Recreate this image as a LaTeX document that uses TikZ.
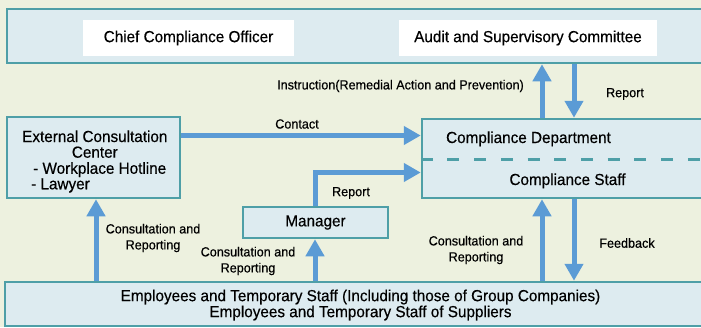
\documentclass[tikz,border=0pt]{standalone}
\usepackage{fontspec}
\setmainfont{Liberation Sans}[FakeStretch=0.955,FakeBold=0.4]
\usetikzlibrary{arrows.meta}
\definecolor{bgc}{HTML}{EDF1DF}
\definecolor{boxfill}{HTML}{DDEBF0}
\definecolor{boxline}{HTML}{4E9FA7}
\definecolor{arrowc}{HTML}{5B9BD5}
\begin{document}
\begin{tikzpicture}[x=1pt,y=-1pt,
  box/.style={draw=boxline,fill=boxfill,line width=2.5pt,inner sep=0pt},
  whitebox/.style={fill=white,inner sep=0pt,font=\fontsize{16}{16}\selectfont},
  bigtext/.style={font=\fontsize{16}{16}\selectfont,inner sep=0pt},
  lbl/.style={font=\fontsize{13.2}{16}\selectfont,align=center,inner sep=0pt},
  arr/.style={draw=arrowc,line width=5pt,line join=miter,-{Triangle[width=18pt,length=17pt]}}]
\useasboundingbox (0,0) rectangle (701,327);
\fill[bgc] (0,0) rectangle (701,327);
\begin{scope}
\clip (0,0) rectangle (701,327);
% boxes
\node[box,minimum width=706pt,minimum height=54pt] (top) at (360,36) {};
\node[whitebox,minimum width=211pt,minimum height=36pt] (cco) at (188.5,38) {Chief Compliance Officer};
\node[whitebox,minimum width=258pt,minimum height=36pt] (asc) at (528,38) {Audit and Supervisory Committee};
\node[box,minimum width=173pt,minimum height=81pt] (ext) at (93.5,157.5) {};
\node[box,minimum width=291pt,minimum height=79pt] (comp) at (567.5,158.5) {};
\node[box,minimum width=145pt,minimum height=31pt,font=\fontsize{16}{16}\selectfont] (mgr) at (315.5,222.5) {Manager};
\node[box,minimum width=708pt,minimum height=44pt] (emp) at (359,304) {};
% texts inside boxes
\node[bigtext,anchor=base west,font=\fontsize{16}{15}\selectfont] (exttext) at (22,142) {\begin{tabular}[t]{@{}l@{}}External Consultation\\ \multicolumn{1}{c}{Center}\\ \hspace{11pt}- Workplace Hotline\\ \hspace{9pt}- Lawyer\end{tabular}};
\node[bigtext,anchor=base] (cdept) at (528.5,143) {Compliance Department};
\node[bigtext,anchor=base] (cstaff) at (567.5,185) {Compliance Staff};
\node[bigtext,align=center,font=\fontsize{16}{16}\selectfont] (emptext) at (360.5,305) {Employees and Temporary Staff (Including those of Group Companies)\\Employees and Temporary Staff of Suppliers};
% dashed divider
\coordinate (dl) at (0,159);
\draw[boxline,line width=3pt,dash pattern=on 12pt off 14.7pt] (comp.west |- dl) -- (comp.east |- dl);
% arrow coordinates
\coordinate (xL) at (96,0);
\coordinate (xM) at (315,0);
\coordinate (xA) at (542,0);
\coordinate (xB) at (574,0);
\coordinate (yC) at (0,135.5);
\coordinate (yR) at (0,172.5);
% arrows
\draw[arr] (xA |- comp.north) -- (xA |- top.south);
\draw[arr] (xB |- top.south) -- (xB |- comp.north);
\draw[arr] (ext.east |- yC) -- (comp.west |- yC);
\draw[arr] (xM |- mgr.north) -- (xM |- yR) -- (comp.west |- yR);
\draw[arr] (xL |- emp.north) -- (xL |- ext.south);
\draw[arr] (xM |- emp.north) -- (xM |- mgr.south);
\draw[arr] (xA |- emp.north) -- (xA |- comp.south);
\draw[arr] (xB |- comp.south) -- (xB |- emp.north);
% labels
\node[lbl] (linstr) at (400.5,86) {Instruction(Remedial Action and Prevention)};
\node[lbl] (lrep1) at (625,94) {Report};
\node[lbl] (lcont) at (297,124) {Contact};
\node[lbl] (lrep2) at (351,193) {Report};
\node[lbl] (lcr1) at (153,238) {Consultation and\\Reporting};
\node[lbl] (lcr2) at (248,261) {Consultation and\\Reporting};
\node[lbl] (lcr3) at (476,250) {Consultation and\\Reporting};
\node[lbl] (lfeed) at (627,243) {Feedback};
\end{scope}
\end{tikzpicture}
\end{document}
